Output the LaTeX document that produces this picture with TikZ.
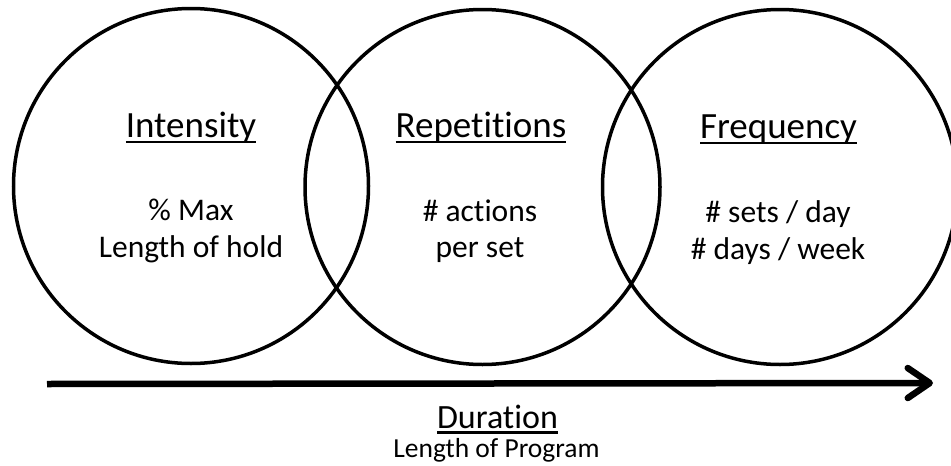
\documentclass[tikz,border=0pt]{standalone}
\usepackage{fontspec}
\setmainfont{Carlito}[Ligatures={NoCommon}]
\usetikzlibrary{arrows.meta}
\newcommand{\ulword}[1]{\setbox0\hbox{#1}\rlap{\rule[-0.17em]{\wd0}{0.075em}}\box0}
\tikzset{
  ring/.style={circle, draw=black, line width=3.5pt, minimum size=355pt, inner sep=0pt},
  titletext/.style={anchor=base, inner sep=0pt, font=\fontsize{37}{40}\selectfont},
  bodytext/.style={anchor=base, inner sep=0pt, font=\fontsize{31.5}{36}\selectfont},
  durtext/.style={anchor=base, inner sep=0pt, font=\fontsize{34}{38}\selectfont},
  subtext/.style={anchor=base, inner sep=0pt, font=\fontsize{27.5}{32}\selectfont},
  timeline/.style={line width=6.5pt, -{Straight Barb[length=22pt, width=30pt, round]}}
}
\begin{document}
\begin{tikzpicture}[x=1pt, y=-1pt]
  \useasboundingbox (0,0) rectangle (951,466);
  \node[ring] (c1) at (191,186) {};
  \node[ring] (c2) at (482.5,187) {};
  \node[ring] (c3) at (780,187) {};

  \node[titletext] (t1) at (191,137) {\ulword{Intensity}};
  \node[bodytext] (b1a) at (191,220) {\% Max};
  \node[bodytext] (b1b) at (191,257) {Length of hold};

  \node[titletext] (t2) at (481,137) {\ulword{Repetitions}};
  \node[bodytext] (b2a) at (480,221) {\# actions};
  \node[bodytext] (b2b) at (480,257) {per set};

  \node[titletext] (t3) at (778.5,138) {\ulword{Frequency}};
  \node[bodytext] (b3a) at (778,222) {\# sets / day};
  \node[bodytext] (b3b) at (778,259) {\# days / week};

  \coordinate (as) at (47,384);
  \coordinate (ae) at (933,383);
  \draw[timeline] (as) -- (ae);

  \node[durtext] (d) at (497.5,428) {\ulword{Duration}};
  \node[subtext] (dl) at (496.5,457) {Length of Program};
\end{tikzpicture}
\end{document}
